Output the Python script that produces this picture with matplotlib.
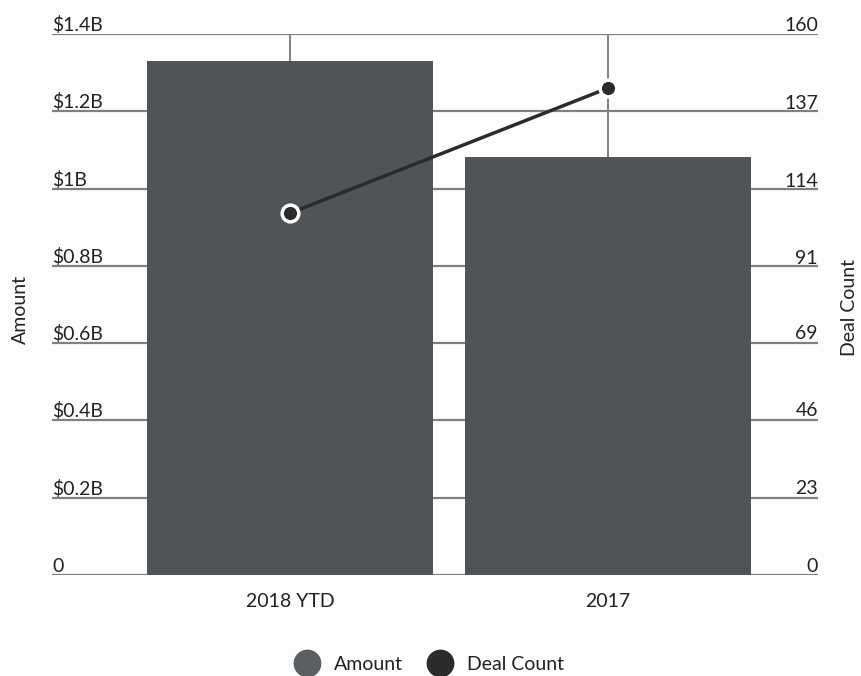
import matplotlib
matplotlib.use("Agg")
import matplotlib.pyplot as plt
import matplotlib.transforms as mtransforms
from matplotlib.lines import Line2D

categories = ["2018 YTD", "2017"]
amount_b = [1.33, 1.082]          # billions
deal_count = [107, 144]
left_ticks = [0, 0.2, 0.4, 0.6, 0.8, 1.0, 1.2, 1.4]
left_labels = ["0", "$0.2B", "$0.4B", "$0.6B", "$0.8B", "$1B", "$1.2B", "$1.4B"]
right_ticks = [0, 23, 46, 69, 91, 114, 137, 160]

plt.rcParams['font.family'] = ['Lato', 'DejaVu Sans']
TEXT = "#222222"
GRID = "#808080"
BAR = "#505457"
LINE = "#2b2b2b"
BG = "#fdfdfd"
FS = 14

fig = plt.figure(figsize=(8.62, 6.76), dpi=100, facecolor=BG)
ax = fig.add_axes([52/862, 1-575/676, (818-52)/862, (575-34)/676])
ax.set_facecolor(BG)
ax2 = ax.twinx()

x = list(range(len(categories)))
ax.set_xlim(-0.748, 1.66)
ax.set_ylim(0, 1.4)
ax2.set_ylim(0, 160)

for sp in list(ax.spines.values()) + list(ax2.spines.values()):
    sp.set_visible(False)

for t in left_ticks:
    ax.axhline(t, color=GRID, lw=1.6, zorder=1)
for xi in x:
    ax.axvline(xi, color=GRID, lw=1.4, zorder=1)

ax.bar(x, amount_b, width=0.9, color=BAR, zorder=2)

ax.set_yticks([])
ax2.set_yticks([])
ax.set_xticks(x)
ax.set_xticklabels(categories, fontsize=FS, color=TEXT)
ax.tick_params(axis='x', length=0, pad=13)

trL = mtransforms.blended_transform_factory(ax.transAxes, ax.transData)
for t, lab in zip(left_ticks, left_labels):
    ax.text(0, t, lab, transform=trL, ha='left', va='bottom', fontsize=FS,
            color=TEXT)
trR = mtransforms.blended_transform_factory(ax2.transAxes, ax2.transData)
for t in right_ticks:
    ax2.text(1, t, str(t), transform=trR, ha='right', va='bottom', fontsize=FS,
             color=TEXT)

ax2.plot(x, deal_count, color=LINE, lw=2.5, zorder=3)
ax2.plot(x[:1], deal_count[:1], 'o', ms=12, mfc=LINE, mec='white', mew=2.5, zorder=4)
ax2.plot(x[1:], deal_count[1:], 'o', ms=12, mfc=LINE, mec='white', mew=2.5, zorder=4)

fig.text(20/862, 1-310/676, "Amount", rotation=90, ha='center', va='center',
         fontsize=FS, color=TEXT)
fig.text(850/862, 1-307/676, "Deal Count", rotation=90, ha='center', va='center',
         fontsize=FS, color=TEXT)

handles = [Line2D([], [], ls='none', marker='o', ms=19, mfc="#5b5f62", mec="#5b5f62"),
           Line2D([], [], ls='none', marker='o', ms=19, mfc=LINE, mec=LINE)]
fig.legend(handles, ["Amount", "Deal Count"], loc='center', ncol=2,
           bbox_to_anchor=(426/862, 1-664/676), frameon=False, fontsize=FS,
           handletextpad=0.4, columnspacing=0.9, labelcolor=TEXT)

fig.savefig("out.png", dpi=100, facecolor=BG)
